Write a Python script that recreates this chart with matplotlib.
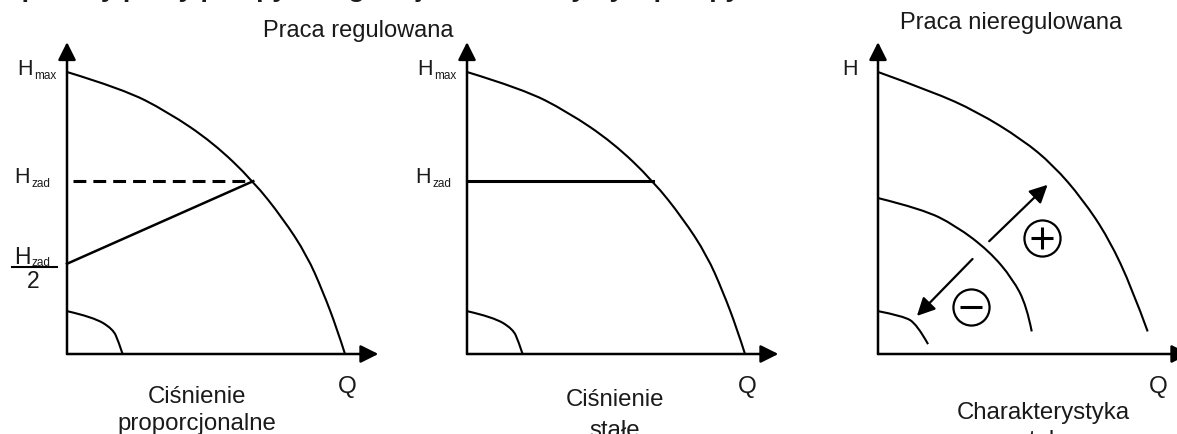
import matplotlib
matplotlib.use("Agg")
import matplotlib.pyplot as plt
from matplotlib.path import Path
from matplotlib.patches import PathPatch

W, H = 1177, 435
plt.rcParams["font.family"] = ["Liberation Sans", "DejaVu Sans"]
INK = "#1a1a1a"

# pump curves, Q and H as fractions of Qmax / Hmax
q_pump = [0.0, 0.20, 0.36, 0.525, 0.67, 0.777, 0.863, 0.921, 0.971, 1.0]
h_pump = [1.0, 0.94, 0.86, 0.75, 0.613, 0.48, 0.35, 0.22, 0.09, 0.0]
q_low = [0.0, 0.094, 0.165, 0.185, 0.20]
h_low = [0.152, 0.131, 0.089, 0.045, 0.0]

h_zad = 0.613
q_zad = 0.67
h_zad_half = 0.32

# unregulated panel
q_max3 = [0.0, 0.197, 0.355, 0.52, 0.63, 0.735, 0.83, 0.915, 0.97]
h_max3 = [1.0, 0.93, 0.86, 0.76, 0.67, 0.55, 0.41, 0.23, 0.08]
q_mid3 = [0.0, 0.16, 0.28, 0.40, 0.485, 0.535, 0.553]
h_mid3 = [0.553, 0.514, 0.455, 0.365, 0.266, 0.17, 0.08]
q_low3 = [0.0, 0.09, 0.14, 0.18]
h_low3 = [0.152, 0.135, 0.106, 0.035]
arrow_up = [(0.40, 0.40), (0.61, 0.60)]
arrow_down = [(0.34, 0.337), (0.14, 0.135)]
plus_at = (0.59, 0.41)
minus_at = (0.333, 0.167)

titles = ["Praca regulowana", "Praca nieregulowana"]
captions = [["Ciśnienie", "proporcjonalne"], ["Ciśnienie", "stałe"],
            ["Charakterystyka", "stała"]]

HEAD = "-|>,head_length=0.6,head_width=0.3"


def arrow(ax, start, end, lw=1.8):
    ax.annotate("", xy=end, xytext=start, annotation_clip=False,
                arrowprops=dict(arrowstyle=HEAD, mutation_scale=18, lw=lw,
                                color="black", shrinkA=0, shrinkB=0))


def smooth(ax, qs, hs, lw=1.5):
    # quadratic B-spline path: read points act as control points
    pts = list(zip(qs, hs))
    verts = [pts[0]]
    codes = [Path.MOVETO]
    for i in range(1, len(pts) - 1):
        if i < len(pts) - 2:
            end = ((pts[i][0] + pts[i + 1][0]) / 2, (pts[i][1] + pts[i + 1][1]) / 2)
        else:
            end = pts[-1]
        verts += [pts[i], end]
        codes += [Path.CURVE3, Path.CURVE3]
    if len(pts) == 2:
        verts.append(pts[1])
        codes.append(Path.LINETO)
    ax.add_patch(PathPatch(Path(verts, codes), fill=False, lw=lw,
                           edgecolor="black", clip_on=False))


def panel(ox, oy, sx=278, sy=282):
    ax = fig.add_axes([ox / W, (H - oy) / H, sx / W, sy / H])
    ax.set_xlim(0, 1)
    ax.set_ylim(0, 1)
    ax.axis("off")
    ax.patch.set_alpha(0)
    arrow(ax, (0, 0), (0, 1.106))
    arrow(ax, (0, 0), (1.12, 0))
    ax.text(1.007, -0.113, "Q", ha="center", va="center", fontsize=17.5,
            color=INK)
    return ax


def h_label(ax, x, y, sub, dy=-0.016, size=15.5):
    ax.text(x, y, "H", ha="left", va="baseline", fontsize=size, color=INK,
            clip_on=False)
    ax.text(x + 0.062, y + dy, sub, ha="left", va="baseline", fontsize=8.5,
            color=INK, clip_on=False)


def caption(ax, x, y, lines, step=0.094):
    for i, s in enumerate(lines):
        ax.text(x, y - i * step, s, ha="center", va="center", fontsize=17.3,
                color=INK, clip_on=False)


fig = plt.figure(figsize=(W / 100, H / 100), dpi=100)
fig.patch.set_facecolor("white")

# --- panel 1: proportional pressure
ax1 = panel(67, 355)
smooth(ax1, q_pump, h_pump)
smooth(ax1, q_low, h_low)
ax1.plot([0.02, q_zad], [h_zad, h_zad], color="black", lw=2.2,
         linestyle=(0, (4.2, 2.3)), clip_on=False)
ax1.plot([0, q_zad], [h_zad_half, h_zad], color="black", lw=1.8,
         clip_on=False)
h_label(ax1, -0.18, 0.993, "max")
h_label(ax1, -0.19, 0.61, "zad")
h_label(ax1, -0.19, 0.323, "zad", dy=-0.006, size=16.5)
ax1.plot([-0.198, -0.036], [0.309, 0.309], color="black", lw=1.5,
         clip_on=False)
ax1.text(-0.122, 0.259, "2", ha="center", va="center", fontsize=16.5,
         color=INK)
caption(ax1, 0.468, -0.149, captions[0])

# --- panel 2: constant pressure
ax2 = panel(467, 355)
smooth(ax2, q_pump, h_pump)
smooth(ax2, q_low, h_low)
ax2.plot([0, q_zad], [h_zad, h_zad], color="black", lw=2.2, clip_on=False)
h_label(ax2, -0.18, 0.993, "max")
h_label(ax2, -0.187, 0.61, "zad")
caption(ax2, 0.532, -0.16, captions[1], step=0.11)

# --- panel 3: unregulated
ax3 = panel(878, 355)
for qs, hs in [(q_max3, h_max3), (q_mid3, h_mid3), (q_low3, h_low3)]:
    smooth(ax3, qs, hs)
arrow(ax3, arrow_up[0], arrow_up[1], lw=1.6)
arrow(ax3, arrow_down[0], arrow_down[1], lw=1.6)
for pos, mark in [(plus_at, "+"), (minus_at, "_")]:
    ax3.plot(*pos, marker="o", ms=26, mfc="white", mec="black", mew=1.6,
             clip_on=False)
    ax3.plot(*pos, marker=mark, ms=16, mec="black", mew=2.2, clip_on=False)
ax3.text(-0.10, 1.014, "H", ha="center", va="center", fontsize=15.5,
         color=INK)
caption(ax3, 0.594, -0.206, captions[2], step=0.1)

# --- titles
fig.text(358 / W, 1 - 37 / H, titles[0], ha="center", va="baseline",
         fontsize=17, color=INK)
fig.text(1011 / W, 1 - 29 / H, titles[1], ha="center", va="baseline",
         fontsize=17, color=INK)
# heading cut off by the top edge, as in the source picture
fig.text(4 / W, 1 + 3 / H,
         "Sposoby pracy pompy obiegowej – charakterystyki pompy",
         ha="left", va="baseline", fontsize=19, fontweight="bold", color=INK)

fig.savefig("out.png", dpi=100, facecolor="white")
